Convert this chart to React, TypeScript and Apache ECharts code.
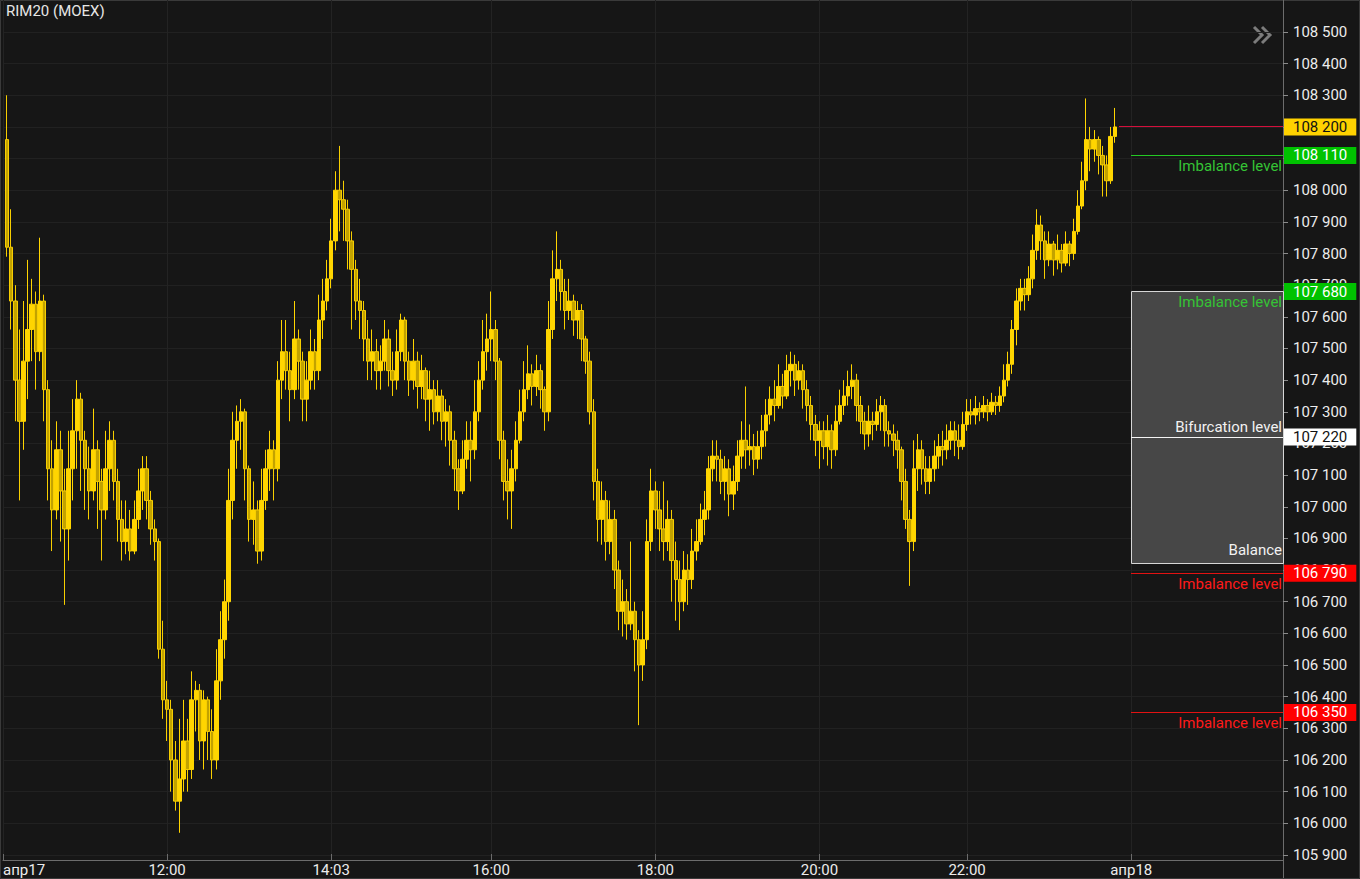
import React, { useEffect, useRef } from "react";
import * as echarts from "echarts";

const FONT = "Roboto, 'Noto Sans', sans-serif";

const chartTitle = "RIM20 (MOEX)";
const slotCount = 313;
const tickSlots = [0, 40, 80, 119, 159, 199, 235, 275];
const tickLabels = ["апр17", "12:00", "14:03", "16:00", "18:00", "20:00", "22:00", "апр18"];
const priceTicks = [
  105900, 106000, 106100, 106200, 106300, 106400, 106500, 106600, 106700, 106800,
  106900, 107000, 107100, 107200, 107300, 107400, 107500, 107600, 107700, 107800,
  107900, 108000, 108100, 108200, 108300, 108400, 108500,
];

// [open, close, low, high]
const candles: number[][] = [
  [108160,107820,107790,108300],[107820,107650,107560,107940],[107650,107400,107270,107700],[107400,107270,107020,107560],
  [107270,107460,107180,107650],[107460,107560,107340,107780],[107560,107640,107460,107720],[107640,107490,107370,107680],
  [107490,107650,107460,107850],[107650,107370,107270,107670],[107370,107120,107020,107400],[107120,106990,106860,107210],
  [106990,107180,106960,107270],[107180,107050,106890,107240],[107050,106930,106690,107120],[106930,107120,106830,107240],
  [107120,107240,107020,107340],[107240,107340,107120,107400],[107340,107210,107050,107360],[107210,107120,106990,107240],
  [107120,107050,106960,107190],[107050,107180,107020,107310],[107180,107080,106930,107210],[107080,106990,106830,107120],
  [106990,107120,106960,107240],[107120,107210,107050,107270],[107210,107080,107020,107240],[107080,106960,106890,107120],
  [106960,106890,106830,107020],[106890,106930,106850,107020],[106930,106860,106830,106990],[106860,106960,106850,107020],
  [106960,107050,106930,107120],[107050,107120,106990,107160],[107120,107020,106960,107160],[107020,106930,106880,107050],
  [106930,106890,106830,106960],[106890,106550,106520,106900],[106550,106390,106330,106640],[106390,106360,106260,106450],
  [106360,106200,106100,106390],[106200,106070,106040,106260],[106070,106140,105970,106330],[106140,106260,106100,106390],
  [106260,106170,106100,106330],[106170,106390,106140,106480],[106390,106420,106290,106450],[106420,106260,106200,106440],
  [106260,106390,106170,106420],[106390,106290,106200,106400],[106290,106200,106140,106360],[106200,106450,106170,106550],
  [106450,106580,106390,106670],[106580,106700,106520,106770],[106700,107020,106640,107120],[107020,107210,106960,107300],
  [107210,107270,107120,107320],[107270,107300,107180,107340],[107300,107120,107020,107310],[107120,106960,106890,107130],
  [106960,106990,106880,107080],[106990,106860,106820,107020],[106860,107020,106830,107120],[107020,107120,106990,107180],
  [107120,107180,107050,107240],[107180,107120,107020,107210],[107120,107400,107080,107460],[107400,107490,107340,107590],
  [107490,107430,107370,107590],[107430,107370,107270,107490],[107370,107530,107340,107650],[107530,107460,107370,107560],
  [107460,107340,107270,107490],[107340,107400,107270,107460],[107400,107490,107370,107560],[107490,107430,107370,107530],
  [107430,107590,107400,107670],[107590,107650,107530,107720],[107650,107720,107620,107780],[107720,107840,107690,107910],
  [107840,108000,107810,108060],[108000,107970,107870,108140],[107970,107940,107840,108030],[107940,107840,107750,107970],
  [107840,107750,107560,107870],[107750,107650,107590,107780],[107650,107620,107530,107720],[107620,107530,107460,107650],
  [107530,107460,107400,107590],[107460,107490,107400,107560],[107490,107430,107370,107530],[107430,107460,107370,107510],
  [107460,107530,107430,107590],[107530,107430,107380,107560],[107430,107400,107350,107490],[107400,107490,107370,107560],
  [107490,107590,107460,107610],[107590,107460,107400,107600],[107460,107400,107350,107490],[107400,107460,107370,107530],
  [107460,107380,107310,107490],[107380,107430,107340,107480],[107430,107340,107270,107440],[107340,107370,107240,107430],
  [107370,107300,107260,107400],[107300,107350,107270,107400],[107350,107270,107210,107370],[107270,107300,107190,107340],
  [107300,107210,107130,107320],[107210,107120,107050,107240],[107120,107050,106990,107150],[107050,107150,107040,107210],
  [107150,107210,107120,107270],[107210,107180,107080,107270],[107180,107300,107150,107400],[107300,107400,107270,107460],
  [107400,107490,107370,107590],[107490,107530,107430,107610],[107530,107560,107460,107680],[107560,107460,107400,107590],
  [107460,107210,107150,107470],[107210,107080,107020,107240],[107080,107050,106960,107150],[107050,107120,106930,107180],
  [107120,107210,107080,107270],[107210,107300,107200,107370],[107300,107370,107270,107460],[107370,107420,107340,107510],
  [107420,107380,107320,107450],[107380,107430,107350,107480],[107430,107370,107310,107450],[107370,107300,107240,107380],
  [107300,107560,107270,107650],[107560,107720,107530,107810],[107720,107750,107650,107870],[107750,107680,107620,107780],
  [107680,107620,107560,107720],[107620,107650,107590,107720],[107650,107590,107540,107670],[107590,107620,107530,107650],
  [107620,107530,107460,107640],[107530,107460,107420,107540],[107460,107300,107260,107490],[107300,107080,107020,107340],
  [107080,106960,106890,107120],[106960,107020,106880,107080],[107020,106890,106830,107050],[106890,106960,106850,107020],
  [106960,106800,106740,106990],[106800,106670,106610,106830],[106670,106700,106590,106770],[106700,106630,106580,106740],
  [106630,106670,106610,106890],[106670,106580,106480,106700],[106580,106500,106310,106610],[106500,106580,106450,106670],
  [106580,106890,106550,106960],[106890,107050,106860,107120],[107050,106990,106930,107080],[106990,106930,106860,107050],
  [106930,106890,106830,107080],[106890,106960,106860,107020],[106960,106830,106700,106990],[106830,106770,106640,106890],
  [106770,106700,106610,106830],[106700,106800,106670,106860],[106800,106770,106690,106850],[106770,106860,106740,106930],
  [106860,106890,106830,106960],[106890,106960,106880,107010],[106960,106990,106910,107050],[106990,107120,106960,107160],
  [107120,107160,107080,107210],[107160,107150,107080,107210],[107150,107080,107040,107180],[107080,107120,107020,107160],
  [107120,107040,106970,107150],[107040,107080,106990,107130],[107080,107160,107050,107210],[107160,107210,107120,107270],
  [107210,107180,107120,107380],[107180,107190,107130,107260],[107190,107150,107100,107230],[107150,107190,107120,107240],
  [107190,107240,107150,107290],[107240,107290,107190,107340],[107290,107340,107260,107380],[107340,107320,107270,107400],
  [107320,107380,107310,107450],[107380,107350,107310,107420],[107350,107430,107340,107480],[107430,107450,107380,107490],
  [107450,107400,107350,107480],[107400,107430,107370,107460],[107430,107370,107310,107450],[107370,107320,107270,107400],
  [107320,107260,107210,107350],[107260,107210,107160,107290],[107210,107240,107120,107270],[107240,107190,107150,107270],
  [107190,107240,107130,107290],[107240,107180,107120,107260],[107180,107270,107160,107320],[107270,107320,107260,107370],
  [107320,107350,107290,107400],[107350,107380,107320,107430],[107380,107400,107340,107450],[107400,107320,107270,107420],
  [107320,107270,107230,107350],[107270,107230,107180,107300],[107230,107270,107190,107320],[107270,107260,107210,107300],
  [107260,107300,107240,107340],[107300,107320,107240,107350],[107320,107240,107190,107340],[107240,107230,107190,107270],
  [107230,107210,107160,107260],[107210,107180,107120,107240],[107180,107080,107020,107190],[107080,106960,106930,107120],
  [106960,106890,106750,106990],[106890,107120,106860,107210],[107120,107180,107050,107230],[107180,107120,107070,107210],
  [107120,107080,107040,107160],[107080,107120,107040,107160],[107120,107160,107080,107210],[107160,107190,107120,107230],
  [107190,107180,107130,107240],[107180,107210,107150,107260],[107210,107240,107180,107270],[107240,107210,107160,107270],
  [107210,107190,107150,107260],[107190,107260,107180,107300],[107260,107300,107240,107340],[107300,107290,107260,107340],
  [107290,107310,107260,107350],[107310,107300,107270,107330],[107300,107320,107280,107350],[107320,107300,107270,107340],
  [107300,107330,107290,107360],[107330,107320,107290,107350],[107320,107350,107300,107380],[107350,107400,107330,107450],
  [107400,107450,107380,107490],[107450,107560,107420,107590],[107560,107650,107510,107690],[107650,107690,107620,107720],
  [107690,107670,107620,107720],[107670,107720,107650,107760],[107720,107810,107690,107860],[107810,107890,107780,107940],
  [107890,107840,107780,107920],[107840,107780,107720,107870],[107780,107830,107760,107870],[107830,107780,107730,107840],
  [107780,107810,107750,107860],[107810,107770,107740,107830],[107770,107830,107760,107870],[107830,107800,107760,107840],
  [107800,107870,107780,107910],[107870,107950,107860,108000],[107950,108030,107940,108090],[108030,108160,108000,108290],
  [108160,108130,108060,108200],[108130,108160,108090,108190],[108160,108110,108050,108170],[108110,108080,107980,108140],
  [108080,108030,107980,108110],[108030,108170,108020,108200],[108170,108200,108150,108260],
];

const lastPrice = 108200;
const lastPriceFromSlot = 272;
const levelFromSlot = 275;
const imbalanceUpper = [108110, 107680];
const imbalanceLower = [106790, 106350];
const bifurcationLevel = 107220;
const balanceTop = 107680;
const balanceBottom = 106820;

const slots = Array.from({ length: slotCount }, (_, i) => String(i));
const labelMap = new Map<number, string>(tickSlots.map((s, i) => [s, tickLabels[i]]));

const fmtPrice = (v: number) => String(Math.round(v)).replace(/\B(?=(\d{3})+(?!\d))/g, " ");

const GREEN_TEXT = "#35c335";
const RED_TEXT = "#ff1a1a";
const CLEAR = "rgba(0,0,0,0)";

// label-only markLine (the stroke itself is drawn pixel-snapped as graphic below)
function levelLabel(value: number, from: number, text: string, textColor: string, pos: string) {
  return [
    {
      coord: [from, value],
      lineStyle: { color: CLEAR, width: 0 },
      label: { show: true, position: pos, formatter: text, color: textColor, fontSize: 15, fontFamily: FONT, distance: [1, 3] },
    },
    { coord: [slotCount - 1, value], lineStyle: { color: CLEAR, width: 0 } },
  ];
}

function tagLine(value: number, bg: string, fg: string) {
  return [
    {
      coord: [slotCount - 2, value],
      lineStyle: { color: CLEAR, width: 0 },
      label: {
        show: true,
        position: "end",
        formatter: fmtPrice(value),
        backgroundColor: bg,
        color: fg,
        fontSize: 15,
        fontFamily: FONT,
        lineHeight: 17,
        padding: [0, 9, 0, 9],
        distance: 1,
      },
    },
    { coord: [slotCount - 1, value], lineStyle: { color: CLEAR, width: 0 } },
  ];
}

const baseGraphic = [
  {
    type: "text",
    left: 6,
    top: 3,
    style: { text: chartTitle, fill: "#e6e6e6", font: `15px ${FONT}` },
  },
  {
    type: "polyline",
    shape: { points: [[1254, 27], [1262, 35], [1254, 43]] },
    style: { stroke: "#7c7c7c", lineWidth: 3, fill: "none" },
  },
  {
    type: "polyline",
    shape: { points: [[1262, 27], [1270, 35], [1262, 43]] },
    style: { stroke: "#7c7c7c", lineWidth: 3, fill: "none" },
  },
  {
    type: "line",
    shape: { x1: 1283.5, y1: 860, x2: 1283.5, y2: 879 },
    style: { stroke: "#6c6c6c", lineWidth: 1 },
  },
  {
    type: "rect",
    shape: { x: 0.5, y: 0.5, width: 1359, height: 878 },
    style: { fill: "none", stroke: "#3a3a3a", lineWidth: 1 },
    silent: true,
  },
];

export default function App() {
  const ref = useRef<HTMLDivElement>(null);
  useEffect(() => {
    document.body.style.margin = "0";
    const chart = echarts.init(ref.current!, null, { renderer: "svg" });
    const showAt = (index: number) => labelMap.has(index);
    chart.setOption({
      animation: false,
      backgroundColor: "#161616",
      textStyle: { fontFamily: FONT },
      grid: { left: 0, right: 77, top: 0, bottom: 19, containLabel: false },
      xAxis: {
        type: "category",
        data: slots,
        boundaryGap: false,
        axisLine: { show: true, lineStyle: { color: "#6c6c6c", width: 1 } },
        axisTick: { show: true, inside: true, length: 6, interval: showAt, lineStyle: { color: "#6c6c6c" } },
        axisLabel: {
          show: true,
          interval: showAt,
          formatter: (v: string) => labelMap.get(Number(v)) ?? "",
          color: "#ececec",
          fontSize: 15,
          fontFamily: FONT,
          margin: 2,
          alignMinLabel: "left",
        },
        splitLine: { show: true, interval: showAt, lineStyle: { color: "#232323", width: 1 } },
      },
      yAxis: {
        type: "value",
        position: "right",
        min: 105884,
        max: 108601,
        splitNumber: 27,
        scale: true,
        axisLine: { show: true, lineStyle: { color: "#6c6c6c", width: 1 } },
        axisTick: { show: true, inside: false, length: 5, customValues: priceTicks, lineStyle: { color: "#8a8a8a" } },
        axisLabel: {
          show: true,
          customValues: priceTicks,
          formatter: (v: number) => (v % 100 === 0 && v <= 108500 && v >= 105900 ? fmtPrice(v) : ""),
          color: "#ececec",
          fontSize: 15,
          fontFamily: FONT,
          margin: 10,
        },
        splitLine: { show: true, lineStyle: { color: "#212121", width: 1 } },
      },
      series: [
        {
          type: "candlestick",
          data: candles.map((c, i) => [i + 1, c[0], c[1], c[2], c[3]]),
          encode: { x: 0, y: [1, 2, 3, 4] },
          barWidth: 4,
          clip: false,
          itemStyle: {
            color: "#FFD500",
            color0: "#c2a200",
            borderColor: "#FFD500",
            borderColor0: "#F7CE00",
            borderWidth: 1,
          },
          markArea: {
            silent: true,
            data: [
              [
                {
                  coord: [levelFromSlot, balanceTop],
                  itemStyle: { color: "#474747", borderWidth: 0 },
                  label: {
                    show: true,
                    position: "insideBottomRight",
                    formatter: "Balance",
                    color: "#f2f2f2",
                    fontSize: 15,
                    fontFamily: FONT,
                    distance: 2,
                    offset: [1, -4],
                  },
                },
                { coord: [slotCount - 1, balanceBottom] },
              ],
            ],
          },
          markLine: {
            silent: true,
            symbol: "none",
            animation: false,
            lineStyle: { color: CLEAR, width: 0 },
            data: [
              levelLabel(imbalanceUpper[0], levelFromSlot, "Imbalance level", GREEN_TEXT, "insideEndBottom"),
              levelLabel(imbalanceUpper[1], levelFromSlot, "Imbalance level", GREEN_TEXT, "insideEndBottom"),
              levelLabel(bifurcationLevel, levelFromSlot, "Bifurcation level", "#f2f2f2", "insideEndTop"),
              levelLabel(imbalanceLower[0], levelFromSlot, "Imbalance level", RED_TEXT, "insideEndBottom"),
              levelLabel(imbalanceLower[1], levelFromSlot, "Imbalance level", RED_TEXT, "insideEndBottom"),
              tagLine(lastPrice, "#FFD200", "#111111"),
              tagLine(imbalanceUpper[0], "#00C200", "#ffffff"),
              tagLine(imbalanceUpper[1], "#00C200", "#ffffff"),
              tagLine(bifurcationLevel, "#ffffff", "#111111"),
              tagLine(imbalanceLower[0], "#FF0000", "#ffffff"),
              tagLine(imbalanceLower[1], "#FF0000", "#ffffff"),
            ],
          },
        },
      ],
      graphic: baseGraphic,
    });

    // pixel-snapped level strokes, positioned through the chart's own scales
    const py = (v: number) => Math.round(chart.convertToPixel({ yAxisIndex: 0 }, v) as number - 0.5) + 0.5;
    const px = (s: number) => Math.round(chart.convertToPixel({ xAxisIndex: 0 }, s) as number);
    const xEnd = px(slotCount - 1);
    const hLine = (v: number, from: number, color: string) => ({
      type: "line",
      z: 50,
      silent: true,
      shape: { x1: px(from), y1: py(v), x2: xEnd, y2: py(v) },
      style: { stroke: color, lineWidth: 1 },
    });
    const boxX = px(levelFromSlot) + 0.5;
    const boxTop = py(balanceTop);
    const boxBottom = py(balanceBottom);
    chart.setOption({
      graphic: [
        ...baseGraphic,
        {
          type: "rect",
          z: 49,
          silent: true,
          shape: { x: boxX, y: boxTop, width: xEnd + 0.5 - boxX, height: boxBottom - boxTop },
          style: { fill: "none", stroke: "#d6d6d6", lineWidth: 1 },
        },
        hLine(lastPrice, lastPriceFromSlot, "#d3103c"),
        hLine(imbalanceUpper[0], levelFromSlot, "#24c824"),
        hLine(bifurcationLevel, levelFromSlot, "#f4f4f4"),
        hLine(imbalanceLower[0], levelFromSlot, "#e21212"),
        hLine(imbalanceLower[1], levelFromSlot, "#e21212"),
      ],
    });
    return () => chart.dispose();
  }, []);
  return <div ref={ref} style={{ position: "absolute", left: 0, top: 0, width: 1360, height: 879 }} />;
}
